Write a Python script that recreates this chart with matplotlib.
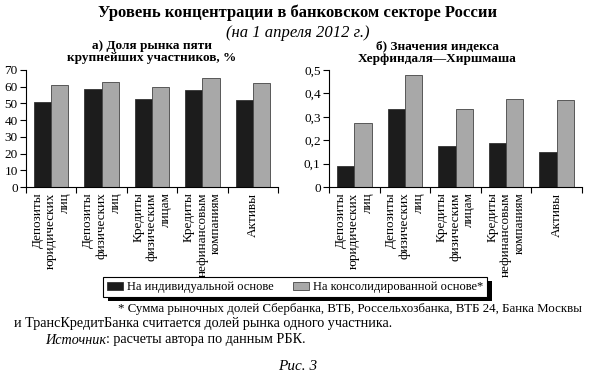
import matplotlib.pyplot as plt
from matplotlib.patches import Rectangle
import numpy as np

plt.rcParams['font.family'] = ['Liberation Serif', 'DejaVu Serif']

categories = ["Депозиты\nюридических\nлиц",
              "Депозиты\nфизических\nлиц",
              "Кредиты\nфизическим\nлицам",
              "Кредиты\nнефинансовым\nкомпаниям",
              "Активы"]
share_individual = [50.8, 58.4, 52.8, 58.0, 51.8]
share_consolidated = [61.2, 62.6, 59.6, 65.0, 62.0]
hhi_individual = [0.091, 0.333, 0.174, 0.187, 0.150]
hhi_consolidated = [0.274, 0.477, 0.333, 0.374, 0.371]
series_names = ["На индивидуальной основе", "На консолидированной основе*"]

dark = "#1c1c1c"
grey = "#a8a8a8"

fig = plt.figure(figsize=(5.95, 3.85), dpi=100)
W, H = 595, 385


def axes_px(x0, x1, y0, y1):
    return fig.add_axes([x0 / W, 1 - y1 / H, (x1 - x0) / W, (y1 - y0) / H])


def draw_panel(ax, v1, v2, ymax, step, fmt):
    x = np.arange(len(categories))
    w = 0.34
    b1 = ax.bar(x - w / 2, v1, w, color=dark, edgecolor="#333333", linewidth=0.6)
    b2 = ax.bar(x + w / 2, v2, w, color=grey, edgecolor="#444444", linewidth=0.6)
    ax.set_xlim(-0.5, len(categories) - 0.5)
    ax.set_ylim(0, ymax)
    ticks = np.arange(0, ymax + step / 2, step)
    ax.set_yticks(ticks, [fmt(t) for t in ticks], fontsize=9.5)
    ax.set_xticks(x, categories, rotation=90, fontsize=9.5,
                  multialignment="right", linespacing=1.2)
    ax.tick_params(axis="x", length=0, pad=4)
    ax.set_xticks(np.arange(len(categories) + 1) - 0.5, minor=True)
    ax.tick_params(axis="x", which="minor", length=4, direction="out", width=0.8)
    ax.tick_params(axis="y", length=4, width=0.8, pad=2)
    for s in ("top", "right"):
        ax.spines[s].set_visible(False)
    for s in ("left", "bottom"):
        ax.spines[s].set_linewidth(0.8)
    return b1, b2


ax1 = axes_px(26, 278, 70, 187)
b1, b2 = draw_panel(ax1, share_individual, share_consolidated, 70, 10,
                    lambda t: f"{t:.0f}")
ax2 = axes_px(329, 582, 70, 187)
draw_panel(ax2, hhi_individual, hhi_consolidated, 0.5, 0.1,
           lambda t: "0" if t == 0 else f"{t:.1f}".replace(".", ","))

fig.text(0.5, 1 - 13 / H, "Уровень концентрации в банковском секторе России",
         ha="center", va="center", fontsize=12, fontweight="bold")
fig.text(0.5, 1 - 33 / H, "(на 1 апреля 2012 г.)", ha="center", va="center",
         fontsize=12, style="italic")
fig.text(152 / W, 1 - 52 / H, "а) Доля рынка пяти\nкрупнейших участников, %",
         ha="center", va="center", fontsize=9.5, fontweight="bold", linespacing=1.1)
fig.text(437 / W, 1 - 53 / H, "б) Значения индекса\nХерфиндаля—Хиршмаша",
         ha="center", va="center", fontsize=9.5, fontweight="bold", linespacing=1.1)

leg = fig.legend([b1, b2], series_names, loc="center",
                 bbox_to_anchor=(295 / W, 1 - 287 / H), ncol=2, fontsize=9,
                 frameon=True, fancybox=False, edgecolor="black", framealpha=1,
                 handlelength=1.3, handleheight=0.6, handletextpad=0.3,
                 columnspacing=1.5, borderpad=0.3, borderaxespad=0)
leg.get_frame().set_linewidth(0.8)
leg.set_zorder(5)

# thick black drop shadow under the legend box
fig.canvas.draw()
bb = leg.get_window_extent()
fig.patches.append(Rectangle(((bb.x0 + 5) / W, (bb.y0 - 4) / H),
                             bb.width / W, bb.height / H,
                             transform=fig.transFigure, facecolor="black",
                             edgecolor="none", zorder=4))

fig.text(118 / W, 1 - 309 / H,
         "* Сумма рыночных долей Сбербанка, ВТБ, Россельхозбанка, ВТБ 24, Банка Москвы",
         ha="left", va="center", fontsize=9.3)
fig.text(14 / W, 1 - 324 / H,
         "и ТрансКредитБанка считается долей рынка одного участника.",
         ha="left", va="center", fontsize=10.2)
src = fig.text(45 / W, 1 - 340 / H, "Источник", ha="left", va="center",
               fontsize=10.2, style="italic")
plt.annotate(": расчеты автора по данным РБК.", xy=(1, 0), xycoords=src,
             ha="left", va="bottom", fontsize=10.2, annotation_clip=False)
fig.text(0.5, 1 - 367 / H, "Рис. 3", ha="center", va="center",
         fontsize=11, style="italic")

plt.savefig("out.png", dpi=100)
